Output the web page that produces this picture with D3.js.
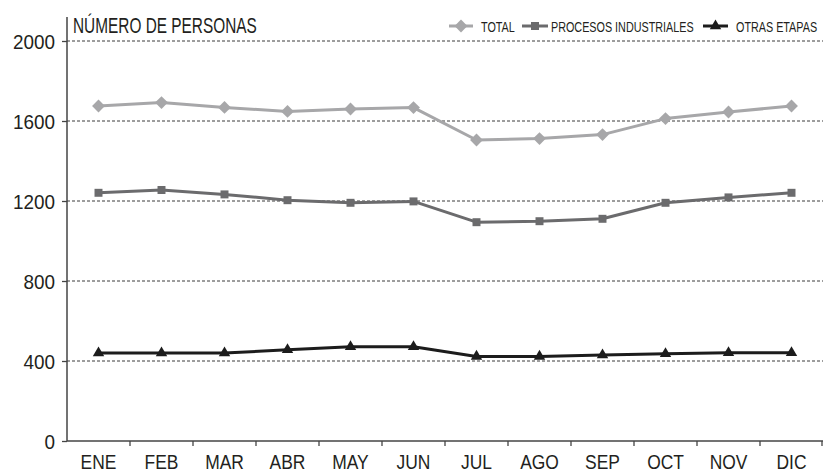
<!DOCTYPE html>
<html>
<head>
<meta charset="utf-8">
<script src="https://cdn.jsdelivr.net/npm/d3@7"></script>
<style>
  html, body { margin: 0; padding: 0; background: #fff; }
  svg { display: block; }
  text { font-family: "Liberation Sans Narrow", "Arial Narrow", "Liberation Sans", Arial, sans-serif; fill: #231f20; }
</style>
</head>
<body>
<svg id="chart" width="824" height="473"></svg>
<script>
const months = ["ENE","FEB","MAR","ABR","MAY","JUN","JUL","AGO","SEP","OCT","NOV","DIC"];
const totalValues = [1675,1692,1668,1648,1660,1667,1505,1512,1532,1612,1645,1675];
const procesosValues = [1241,1255,1233,1204,1191,1198,1094,1099,1111,1191,1218,1241];
const otrasValues = [440,440,440,456,471,471,423,423,430,436,441,441];
const yTickValues = [0,400,800,1200,1600,2000];
const seriesNames = ["TOTAL","PROCESOS INDUSTRIALES","OTRAS ETAPAS"];
const yTitle = "NÚMERO DE PERSONAS";

const series = [
  {name: seriesNames[0], values: totalValues, color: "#a7a7a9", symbol: d3.symbolDiamond2, size: 9},
  {name: seriesNames[1], values: procesosValues, color: "#6b6b6d", symbol: d3.symbolSquare2, size: 9},
  {name: seriesNames[2], values: otrasValues, color: "#1c1c1c", symbol: d3.symbolTriangle2, size: 12}
];

const svg = d3.select("#chart");
const plotLeft = 67, plotRight = 823, plotTop = 41, plotBottom = 441;

const x = d3.scaleBand().domain(months).range([plotLeft, plotRight]).paddingInner(0).paddingOuter(0);
const y = d3.scaleLinear().domain([0, 2000]).range([plotBottom, plotTop]);

// gridlines
svg.append("g").selectAll("line")
  .data(yTickValues.filter(d => d > 0))
  .join("line")
  .attr("x1", plotLeft).attr("x2", plotRight)
  .attr("y1", d => y(d)).attr("y2", d => y(d))
  .attr("stroke", "#3a3a3a").attr("stroke-width", 1)
  .attr("stroke-dasharray", "3,2");

// y axis ticks (labels drawn condensed below)
const yAxis = d3.axisLeft(y).tickValues(yTickValues).tickSize(5).tickFormat("");
const gy = svg.append("g").attr("transform", `translate(${plotLeft},0)`).call(yAxis);
gy.select(".domain").remove();
gy.selectAll(".tick line").attr("stroke", "#444").attr("stroke-width", 1.3);
svg.append("g").selectAll("text").data(yTickValues).join("text")
  .attr("transform", d => `translate(${plotLeft - 12},${y(d)}) scale(0.9,1)`)
  .attr("dy", "0.36em")
  .attr("text-anchor", "end")
  .attr("font-size", 21)
  .text(d => d3.format("d")(d));
svg.append("line").attr("x1", plotLeft).attr("x2", plotLeft).attr("y1", 17).attr("y2", plotBottom)
  .attr("stroke", "#444").attr("stroke-width", 1.5);

// x axis
svg.append("line").attr("x1", plotLeft).attr("x2", plotRight).attr("y1", plotBottom).attr("y2", plotBottom)
  .attr("stroke", "#444").attr("stroke-width", 1.5);
const boundaries = months.slice(1).map(m => x(m));
boundaries.push(plotRight - 1);
svg.append("g").selectAll("line").data(boundaries).join("line")
  .attr("x1", d => d).attr("x2", d => d).attr("y1", plotBottom).attr("y2", plotBottom + 5)
  .attr("stroke", "#444").attr("stroke-width", 1.3);
svg.append("g").selectAll("text").data(months).join("text")
  .attr("transform", d => `translate(${x(d) + x.bandwidth() / 2},468.5) scale(0.83,1)`)
  .attr("text-anchor", "middle")
  .attr("font-size", 21)
  .text(d => d);

// axis title (condensed horizontally)
svg.append("text")
  .attr("transform", "translate(73,33) scale(0.716,1)")
  .attr("font-size", 21.5)
  .text(yTitle);

// lines
const line = d3.line().x((d, i) => x(months[i]) + x.bandwidth() / 2).y(d => y(d));
const symScale = s => s.symbol === d3.symbolTriangle2 ? 0.65 : (s.symbol === d3.symbolDiamond2 ? 1.3 : 1);
series.forEach(s => {
  svg.append("path").datum(s.values).attr("d", line)
    .attr("fill", "none").attr("stroke", s.color).attr("stroke-width", 3).attr("stroke-linejoin", "round");
  svg.append("g").selectAll("path").data(s.values).join("path")
    .attr("transform", (d, i) => `translate(${x(months[i]) + x.bandwidth() / 2},${y(d)})`)
    .attr("d", d3.symbol().type(s.symbol).size(s.size * s.size * symScale(s)))
    .attr("fill", s.color);
});

// legend
const legendItems = [
  {s: series[0], lineX1: 449, lineX2: 473, textX: 481},
  {s: series[1], lineX1: 522, lineX2: 548, textX: 551},
  {s: series[2], lineX1: 703, lineX2: 728, textX: 736}
];
const lg = svg.append("g");
legendItems.forEach(it => {
  const ly = 26;
  lg.append("line").attr("x1", it.lineX1).attr("x2", it.lineX2).attr("y1", ly).attr("y2", ly)
    .attr("stroke", it.s.color).attr("stroke-width", 3);
  lg.append("path").attr("transform", `translate(${(it.lineX1 + it.lineX2) / 2},${ly})`)
    .attr("d", d3.symbol().type(it.s.symbol).size(it.s.size * it.s.size * symScale(it.s)))
    .attr("fill", it.s.color);
  lg.append("text").attr("transform", `translate(${it.textX},32) scale(0.72,1)`).attr("font-size", 15)
    .text(it.s.name);
});
</script>
</body>
</html>
